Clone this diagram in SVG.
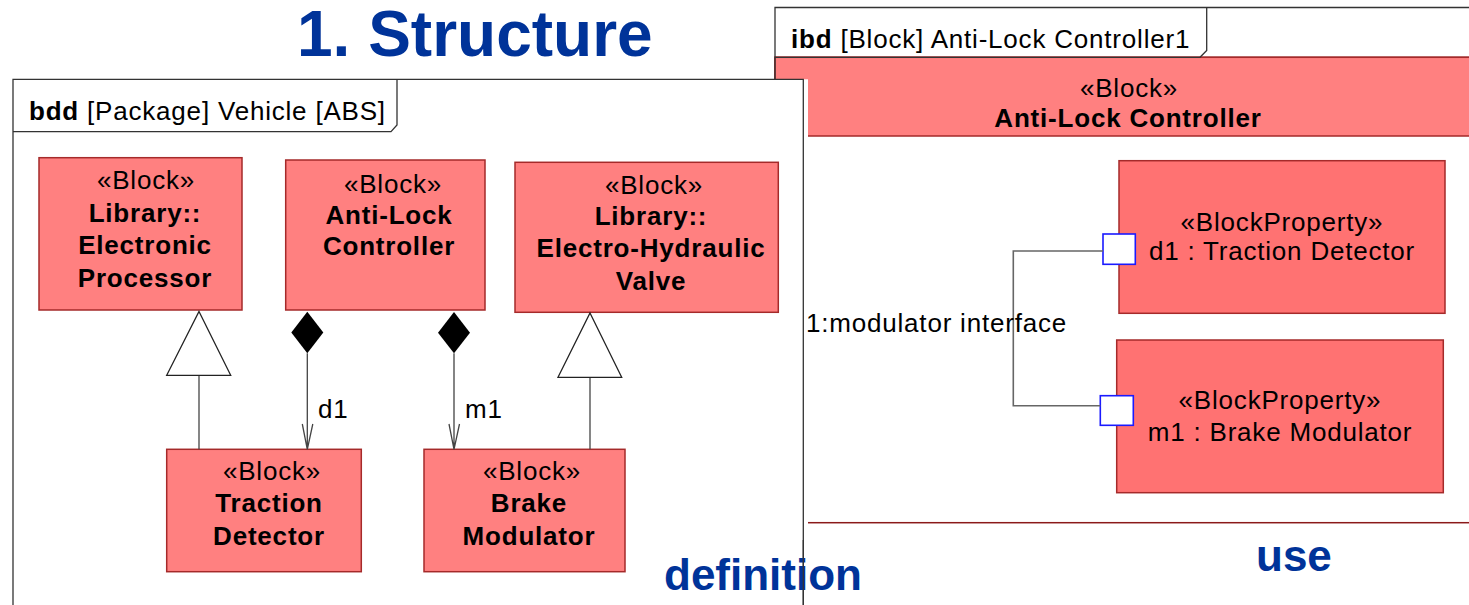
<svg xmlns="http://www.w3.org/2000/svg" width="1469" height="605" viewBox="0 0 1469 605">
<style>
text{font-family:"Liberation Sans",Arial,sans-serif;fill:#000}
.t{font-size:26px;letter-spacing:0.8px}
.b{font-weight:bold}
.m{text-anchor:middle}
.blk{fill:#FF8080;stroke:#A52A2A;stroke-width:1.5}
.prt{fill:#FF7272;stroke:#A52A2A;stroke-width:1.5}
.frame{fill:none;stroke:#333;stroke-width:1.3}
.port{fill:#fff;stroke:#1a1aff;stroke-width:1.6}
.edge{fill:none;stroke:#444;stroke-width:1.3}
.cn{fill:none;stroke:#666;stroke-width:1.6}
.big{font-weight:bold;fill:#003399}
</style>

<text class="big" x="297" y="56" font-size="64">1. Structure</text>

<g id="ibd-frame">
  <rect x="775" y="57.3" width="720" height="465.4" fill="#fff" stroke="#8B1A1A" stroke-width="1.5"/>
  <rect x="775" y="57.3" width="720" height="78.7" fill="#FF8080" stroke="#A52A2A" stroke-width="1.5"/>
  <path class="frame" d="M775,79 V7.5 H1469"/>
  <path class="frame" d="M775,57.3 H1200 L1206.7,50.5 V7.5"/>
  <text class="t" x="791" y="47.5"><tspan class="b">ibd</tspan> [Block] Anti-Lock Controller1</text>
  <text class="t m" x="1129" y="96.7">«Block»</text>
  <text class="t m b" x="1128" y="126.7">Anti-Lock Controller</text>
</g>

<g id="bdd-frame">
  <rect x="13" y="79.3" width="795" height="526" fill="#fff"/>
  <path class="frame" d="M13,605 V79.3 H803.3 V605"/>
  <path class="frame" d="M13,131.7 H391 L397,125 V79.3"/>
  <text class="t" x="29" y="120"><tspan class="b">bdd</tspan> [Package] Vehicle [ABS]</text>
</g>

<g id="electronic-processor">
  <rect class="blk" x="39" y="157.7" width="203" height="152.3"/>
  <text class="t m" x="146" y="189.3">«Block»</text>
  <text class="t m b" x="145" y="221.7">Library::</text>
  <text class="t m b" x="145" y="254">Electronic</text>
  <text class="t m b" x="145" y="286.5">Processor</text>
</g>

<g id="anti-lock-controller">
  <rect class="blk" x="285.7" y="160" width="199.3" height="150"/>
  <text class="t m" x="393" y="192.7">«Block»</text>
  <text class="t m b" x="389" y="223.5">Anti-Lock</text>
  <text class="t m b" x="389" y="255">Controller</text>
</g>

<g id="electro-hydraulic-valve">
  <rect class="blk" x="515" y="162.3" width="263.3" height="150"/>
  <text class="t m" x="654" y="194">«Block»</text>
  <text class="t m b" x="651" y="225">Library::</text>
  <text class="t m b" x="651" y="256.7">Electro-Hydraulic</text>
  <text class="t m b" x="651" y="290">Valve</text>
</g>

<g id="traction-detector">
  <rect class="blk" x="166.7" y="449.3" width="194.6" height="122.4"/>
  <text class="t m" x="272" y="480">«Block»</text>
  <text class="t m b" x="269" y="512">Traction</text>
  <text class="t m b" x="269" y="545">Detector</text>
</g>

<g id="brake-modulator">
  <rect class="blk" x="424" y="449.3" width="201" height="122.4"/>
  <text class="t m" x="532" y="480">«Block»</text>
  <text class="t m b" x="529" y="512">Brake</text>
  <text class="t m b" x="529" y="545">Modulator</text>
</g>

<g id="d1-traction-detector">
  <rect class="prt" x="1119" y="160.7" width="326" height="152.6"/>
  <text class="t m" x="1282" y="230.7">«BlockProperty»</text>
  <text class="t m" x="1282" y="260">d1 : Traction Detector</text>
  <rect class="port" x="1103" y="234" width="32.3" height="30.3"/>
</g>

<g id="m1-brake-modulator">
  <rect class="prt" x="1116.7" y="340" width="326.6" height="152.7"/>
  <text class="t m" x="1280" y="409.3">«BlockProperty»</text>
  <text class="t m" x="1280" y="440.7">m1 : Brake Modulator</text>
  <rect class="port" x="1100.3" y="395.7" width="33" height="29.6"/>
</g>

<g id="connectors">
  <path class="edge" d="M199,449.3 V375.3"/>
  <path d="M199,311.5 L230.7,375.3 H166.7 Z" fill="#fff" stroke="#222" stroke-width="1.3"/>
  <path class="edge" d="M590,449.3 V377.3"/>
  <path d="M590,313 L621.7,377.3 H558 Z" fill="#fff" stroke="#222" stroke-width="1.3"/>

  <path d="M307.3,311.7 L323.3,332.5 L307.3,353.3 L291.3,332.5 Z" fill="#000"/>
  <path class="edge" d="M307.3,353.3 V449.3 M302.3,424 L307.3,449.3 L312.8,424"/>
  <text class="t" x="318" y="418.3">d1</text>

  <path d="M454,312 L470,332.7 L454,353.3 L438,332.7 Z" fill="#000"/>
  <path class="edge" d="M454,353.3 V449.3 M449,424 L454,449.3 L459.5,424"/>
  <text class="t" x="465" y="418.3">m1</text>

  <path class="cn" d="M1103,251 H1013.3 V405.7 H1100.3"/>
  <text class="t" x="806" y="331.7">1:modulator interface</text>
</g>

<text class="big" x="664" y="590" font-size="44">definition</text>
<text class="big" x="1256" y="570.7" font-size="44">use</text>
<path class="frame" d="M803.3,540 V605"/>
</svg>
